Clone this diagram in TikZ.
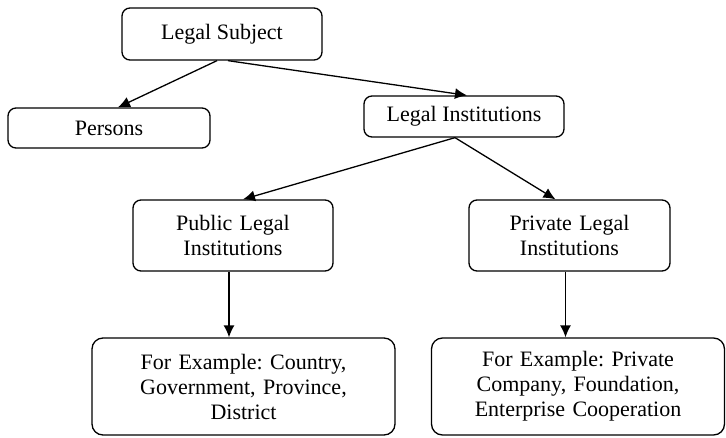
\documentclass[tikz,border=0pt]{standalone}
\usepackage{fontspec}
\setmainfont{Liberation Serif}
\usepackage{tikz}
\usetikzlibrary{arrows.meta,positioning}
\frenchspacing

\begin{document}
\begin{tikzpicture}[x=1pt,y=-1pt,->,>={Latex[length=12pt,width=11pt]},line width=1.3pt,
	roundbox/.style={rectangle,draw,rounded corners=8pt,inner sep=0pt,align=center,font=\fontsize{22}{25}\selectfont},
	examplebox/.style={roundbox,rounded corners=11pt,minimum height=97pt}]
	
	\useasboundingbox (0, 0) rectangle (726, 437);
	
	\node [roundbox, minimum width=200pt, minimum height=52pt] (0) at (222, 34) {Legal Subject};
	\node [roundbox, minimum width=202pt, minimum height=40pt] (1) at (109, 128) {Persons};
	\node [roundbox, minimum width=200pt, minimum height=41pt] (2) at (464, 116.5) {Legal Institutions};
	\node [roundbox, text width=200pt, minimum height=71pt] (3) at (233, 235.5) {Public Legal\\Institutions};
	\node [roundbox, text width=201pt, minimum height=71pt] (4) at (569.5, 235.5) {Private Legal\\Institutions};
	\node [examplebox, text width=303pt] (5) at (243.5, 386.5) {For Example: Country,\\Government, Province,\\District};
	\node [examplebox, text width=293pt] (6) at (578, 386.5) {For Example: Private\\Company, Foundation,\\Enterprise Cooperation};
	
	\draw ([xshift=-5pt]0.south) to ([xshift=9pt]1.north);
	\draw ([xshift=6pt]0.south) to ([xshift=3pt]2.north);
	\draw ([xshift=-9pt]2.south) to ([xshift=10pt]3.north);
	\draw ([xshift=-9pt]2.south) to ([xshift=-14pt]4.north);
	\draw ([xshift=-4pt]3.south) to ([xshift=-4pt]3.south |- 5.north);
	\draw ([xshift=-4pt]4.south) to ([xshift=-4pt]4.south |- 6.north);
\end{tikzpicture}
\end{document}
